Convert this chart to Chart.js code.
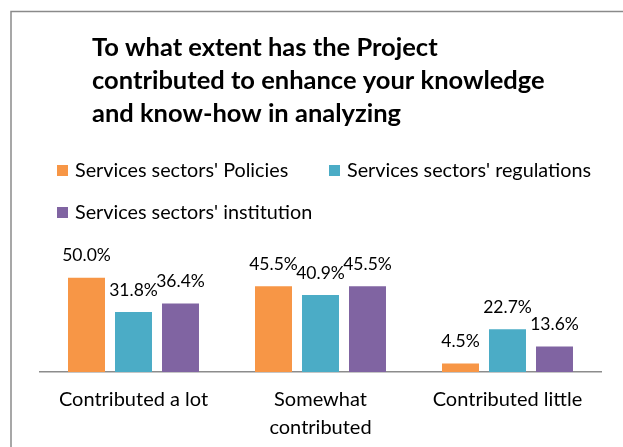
<!DOCTYPE html>
<html lang="en">
<head>
<meta charset="UTF-8">
<script src="https://cdn.jsdelivr.net/npm/chart.js@4/dist/chart.umd.min.js"></script>
<style>
  html, body { margin: 0; padding: 0; background: #fff; }
  #wrap { position: relative; width: 623px; height: 447px; }
</style>
</head>
<body>
<div id="wrap"><canvas id="chart"></canvas></div>
<script>
var titleLines = ['To what extent has the Project', 'contributed to enhance your knowledge', 'and know-how in analyzing'];
var categories = ['Contributed a lot', ['Somewhat', 'contributed'], 'Contributed little'];
var seriesNames = ["Services sectors' Policies", "Services sectors' regulations", "Services sectors' institution"];
var policies = [50.0, 45.5, 4.5];
var regulations = [31.8, 40.9, 22.7];
var institution = [36.4, 45.5, 13.6];
var colors = ['#F79646', '#4BACC6', '#8064A2'];

Chart.defaults.font.family = 'Lato, "Open Sans", sans-serif';
Chart.defaults.color = '#000';

// frame, title and legend rows are painted straight onto the canvas
var header = {
    id: 'header',
    beforeDraw: function (chart) {
        var ctx = chart.ctx;
        ctx.save();
        ctx.fillStyle = '#fff';
        ctx.fillRect(0, 0, chart.width, chart.height);
        ctx.strokeStyle = '#8a8a8a';
        ctx.lineWidth = 1.5;
        ctx.beginPath();
        ctx.moveTo(11, chart.height);
        ctx.lineTo(11, 11.5);
        ctx.lineTo(chart.width, 11.5);
        ctx.stroke();
        ctx.restore();
    },
    afterDraw: function (chart) {
        var ctx = chart.ctx;
        ctx.save();
        ctx.fillStyle = '#000';
        ctx.textBaseline = 'middle';
        ctx.textAlign = 'left';
        ctx.font = 'bold 25.5px Lato, "Open Sans", sans-serif';
        titleLines.forEach(function (t, i) {
            ctx.fillText(t, 92, 48 + i * 33);
        });

        // legend: two items on the first row, one on the second
        var slots = [[57, 170.5], [329, 170.5], [57, 212.5]];
        ctx.font = '19.8px Lato, "Open Sans", sans-serif';
        chart.data.datasets.forEach(function (ds, i) {
            var s = slots[i];
            ctx.fillStyle = ds.backgroundColor;
            ctx.fillRect(s[0], s[1] - 5.5, 11, 11);
            ctx.fillStyle = '#000';
            ctx.fillText(ds.label, s[0] + 18, s[1]);
        });
        ctx.restore();
    }
};

// value labels above every bar
var valueLabels = {
    id: 'valueLabels',
    afterDatasetsDraw: function (chart) {
        var ctx = chart.ctx;
        ctx.save();
        ctx.font = '17.5px Lato, "Open Sans", sans-serif';
        ctx.fillStyle = '#000';
        ctx.textAlign = 'center';
        ctx.textBaseline = 'middle';
        chart.data.datasets.forEach(function (ds, i) {
            chart.getDatasetMeta(i).data.forEach(function (bar, j) {
                ctx.fillText(ds.data[j].toFixed(1) + '%', bar.x, bar.y - 22);
            });
        });
        ctx.restore();
    }
};

new Chart(document.getElementById('chart'), {
    type: 'bar',
    data: {
        labels: categories,
        datasets: [
            { label: seriesNames[0], data: policies, backgroundColor: colors[0] },
            { label: seriesNames[1], data: regulations, backgroundColor: colors[1] },
            { label: seriesNames[2], data: institution, backgroundColor: colors[2] }
        ]
    },
    options: {
        responsive: true,
        maintainAspectRatio: false,
        animation: false,
        layout: { padding: { top: 259, left: 40, right: 22, bottom: 0 } },
        datasets: { bar: { categoryPercentage: 0.754, barPercentage: 0.787 } },
        plugins: {
            legend: { display: false },
            title: { display: false },
            tooltip: { enabled: false }
        },
        scales: {
            x: {
                grid: { display: false, drawTicks: false },
                border: { display: true, color: '#8c8c8c', width: 1.5 },
                ticks: {
                    font: { size: 20, lineHeight: 1.4 },
                    color: '#000',
                    padding: 14,
                    maxRotation: 0
                },
                afterFit: function (scale) { scale.height = 75; }
            },
            y: { display: false, min: 0, max: 60 }
        }
    },
    plugins: [header, valueLabels]
});
</script>
</body>
</html>
